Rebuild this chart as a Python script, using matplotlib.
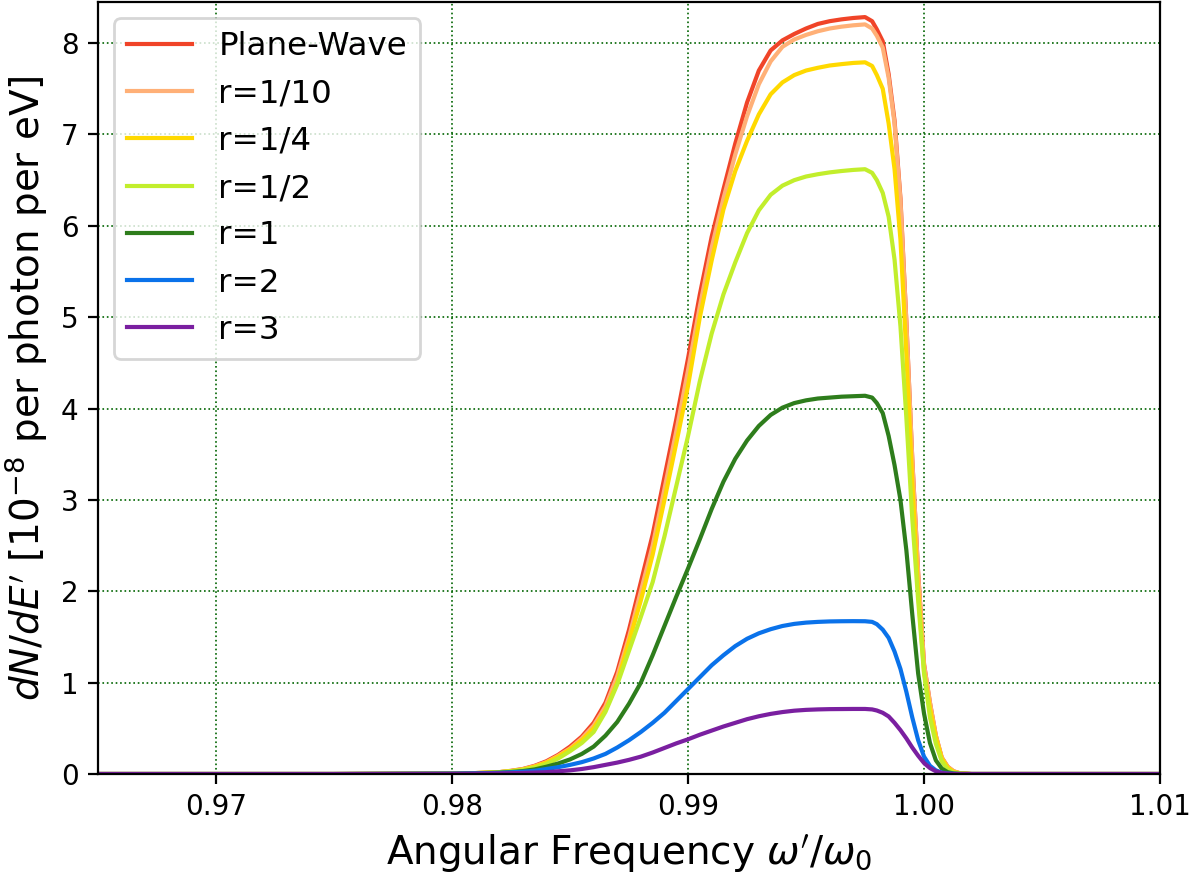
import matplotlib
matplotlib.use("Agg")
import matplotlib.pyplot as plt

# Sample positions omega'/omega_0 shared by all spectra
omega = [0.965, 0.975, 0.980, 0.981, 0.982,
         0.9825, 0.9830, 0.9835, 0.9840, 0.9845, 0.9850, 0.9855, 0.9860, 0.9865, 0.9870,
         0.9875, 0.9880, 0.9885, 0.9890, 0.9895, 0.9900, 0.9905, 0.9910, 0.9915, 0.9920,
         0.9925, 0.9930, 0.9935, 0.9940, 0.9945, 0.9950, 0.9955, 0.9960, 0.9965, 0.9970,
         0.9975,
         0.9978,
         0.99800, 0.99825, 0.99850, 0.99875, 0.99900, 0.99925, 0.99950, 0.99975, 1.00000,
         1.00025, 1.00050, 1.00075, 1.00100, 1.00125, 1.00150,
         1.002, 1.01]

# dN/dE' in units of 1e-8 per photon per eV
plane_wave = [0, 0, 0.005, 0.01, 0.02,
              0.035, 0.055, 0.09, 0.14, 0.21, 0.3, 0.41, 0.56, 0.78, 1.12,
              1.58, 2.1, 2.62, 3.25, 3.88, 4.55, 5.25, 5.88, 6.4, 6.9,
              7.35, 7.7, 7.92, 8.03, 8.1, 8.16, 8.21, 8.24, 8.26, 8.275,
              8.285,
              8.24,
              8.15, 8.02, 7.66, 7.15, 6.3, 4.95, 3.45, 2.2, 1.2,
              0.78, 0.42, 0.18, 0.08, 0.03, 0.01,
              0, 0]

r_1_10 = [0, 0, 0.005, 0.01, 0.02,
          0.033, 0.052, 0.085, 0.13, 0.2, 0.28, 0.39, 0.53, 0.74, 1.07,
          1.5, 2.0, 2.5, 3.12, 3.75, 4.42, 5.12, 5.76, 6.3, 6.78,
          7.2, 7.55, 7.8, 7.96, 8.04, 8.09, 8.13, 8.16, 8.18, 8.195,
          8.205,
          8.16,
          8.08, 7.95, 7.62, 7.12, 6.28, 4.95, 3.45, 2.2, 1.2,
          0.78, 0.42, 0.18, 0.08, 0.03, 0.01,
          0, 0]

r_1_4 = [0, 0, 0.005, 0.01, 0.02,
         0.032, 0.05, 0.08, 0.125, 0.19, 0.27, 0.37, 0.5, 0.7, 1.0,
         1.45, 1.9, 2.4, 3.0, 3.62, 4.25, 5.0, 5.62, 6.18, 6.6,
         6.93, 7.22, 7.44, 7.57, 7.65, 7.7, 7.73, 7.755, 7.77, 7.783,
         7.79,
         7.75,
         7.65, 7.5, 7.12, 6.62, 5.85, 4.6, 3.2, 2.0, 1.12,
         0.72, 0.4, 0.17, 0.07, 0.025, 0.008,
         0, 0]

r_1_2 = [0, 0, 0.005, 0.01, 0.02,
         0.03, 0.045, 0.07, 0.11, 0.17, 0.25, 0.34, 0.46, 0.68, 0.98,
         1.35, 1.72, 2.1, 2.6, 3.15, 3.7, 4.3, 4.82, 5.25, 5.6,
         5.92, 6.17, 6.34, 6.44, 6.5, 6.54, 6.565, 6.585, 6.6, 6.612,
         6.62,
         6.58,
         6.5, 6.36, 6.1, 5.63, 4.9, 3.9, 2.8, 1.9, 1.1,
         0.62, 0.33, 0.14, 0.05, 0.015, 0.005,
         0, 0]

r_1 = [0, 0, 0.004, 0.008, 0.015,
       0.022, 0.032, 0.05, 0.08, 0.115, 0.16, 0.22, 0.3, 0.42, 0.57,
       0.77, 1.0, 1.3, 1.62, 1.94, 2.25, 2.57, 2.9, 3.2, 3.45,
       3.65, 3.81, 3.93, 4.01, 4.06, 4.09, 4.11, 4.12, 4.13, 4.135,
       4.14,
       4.12,
       4.06, 3.95, 3.7, 3.38, 3.0, 2.45, 1.75, 1.1, 0.66,
       0.34, 0.15, 0.06, 0.02, 0.006, 0.002,
       0, 0]

r_2 = [0, 0, 0.003, 0.006, 0.012,
       0.018, 0.025, 0.035, 0.055, 0.075, 0.1, 0.13, 0.17, 0.22, 0.29,
       0.37, 0.46, 0.56, 0.67, 0.8, 0.93, 1.06, 1.19, 1.3, 1.4,
       1.48, 1.54, 1.585, 1.62, 1.643, 1.657, 1.665, 1.67, 1.672, 1.673,
       1.672,
       1.665,
       1.64, 1.58, 1.49, 1.34, 1.15, 0.9, 0.62, 0.37, 0.19,
       0.09, 0.04, 0.015, 0.005, 0.002, 0,
       0, 0]

r_3 = [0, 0, 0.002, 0.004, 0.007,
       0.009, 0.012, 0.016, 0.02, 0.03, 0.04, 0.055, 0.075, 0.1, 0.125,
       0.155, 0.19, 0.235, 0.285, 0.335, 0.38, 0.43, 0.475, 0.52, 0.56,
       0.6, 0.632, 0.658, 0.678, 0.693, 0.702, 0.707, 0.71, 0.711, 0.712,
       0.712,
       0.707,
       0.695, 0.67, 0.63, 0.56, 0.48, 0.39, 0.29, 0.2, 0.12,
       0.065, 0.03, 0.012, 0.004, 0.001, 0,
       0, 0]

labels = ["Plane-Wave", "r=1/10", "r=1/4", "r=1/2", "r=1", "r=2", "r=3"]
colors = ["#F04428", "#FFB077", "#FFD900", "#C2EE2C", "#2E7D1C", "#0A72EA", "#7A1FA0"]
spectra = [plane_wave, r_1_10, r_1_4, r_1_2, r_1, r_2, r_3]

x_ticks = [0.97, 0.98, 0.99, 1.00, 1.01]
y_ticks = [0, 1, 2, 3, 4, 5, 6, 7, 8]

fig = plt.figure(figsize=(6.015, 4.365), dpi=200)
ax = fig.add_axes([0.0815, 0.1134, 0.8828, 0.8843])

for label, ys, color in zip(labels, spectra, colors):
    ax.plot(omega, ys, color=color, lw=1.5, label=label)

ax.set_xlim(0.965, 1.01)
ax.set_ylim(0, 8.45)
ax.set_xticks(x_ticks)
ax.set_yticks(y_ticks)
ax.tick_params(labelsize=10)
ax.grid(True, color="darkgreen", linestyle=":", linewidth=0.6)

ax.set_xlabel(r"Angular Frequency $\omega^{\prime}/\omega_0$", fontsize=14)
ax.set_ylabel(r"$dN/dE^{\prime}$ [$10^{-8}$ per photon per eV]", fontsize=14)
ax.legend(loc="upper left", fontsize=11.7)

fig.savefig("out.png", dpi=200)
